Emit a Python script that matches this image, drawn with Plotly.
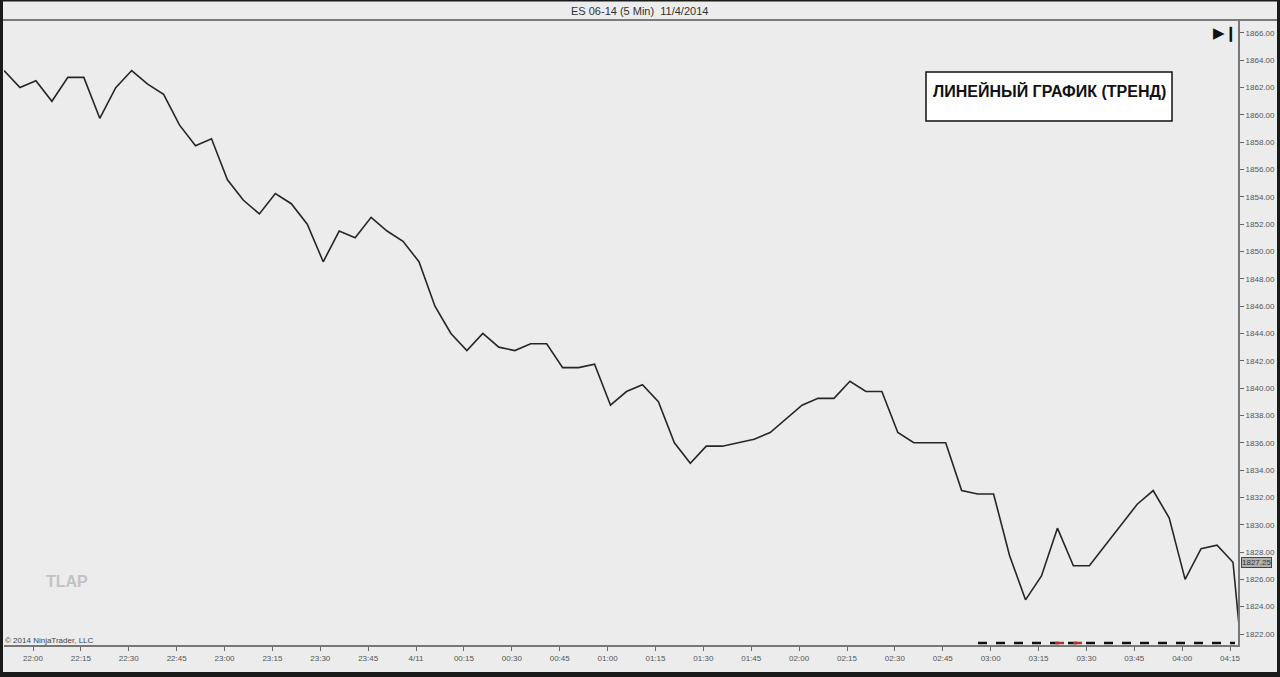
import pandas as pd
import plotly.graph_objects as go

# ---------------- data ----------------
start_time = "2014-11-03 21:50"
prices = [
    1863.25, 1862.0, 1862.5, 1861.0, 1862.75, 1862.75, 1859.75, 1862.0, 1863.25, 1862.25,
    1861.5, 1859.25, 1857.75, 1858.25, 1855.25, 1853.75, 1852.75, 1854.25, 1853.5, 1852.0,
    1849.25, 1851.5, 1851.0, 1852.5, 1851.5, 1850.75, 1849.25, 1846.0, 1844.0, 1842.75,
    1844.0, 1843.0, 1842.75, 1843.25, 1843.25, 1841.5, 1841.5, 1841.75, 1838.75, 1839.75,
    1840.25, 1839.0, 1836.0, 1834.5, 1835.75, 1835.75, 1836.0, 1836.25, 1836.75, 1837.75,
    1838.75, 1839.25, 1839.25, 1840.5, 1839.75, 1839.75, 1836.75, 1836.0, 1836.0, 1836.0,
    1832.5, 1832.25, 1832.25, 1827.75, 1824.5, 1826.25, 1829.75, 1827.0, 1827.0, 1828.5,
    1830.0, 1831.5, 1832.5, 1830.5, 1826.0, 1828.25, 1828.5, 1827.25, 1815.0,
]
times = pd.date_range(start_time, periods=len(prices), freq="5min")

x_tick_times = pd.date_range("2014-11-03 22:00", "2014-11-04 04:15", freq="15min")
x_tick_labels = [
    "22:00", "22:15", "22:30", "22:45", "23:00", "23:15", "23:30", "23:45",
    "4/11", "00:15", "00:30", "00:45", "01:00", "01:15", "01:30", "01:45",
    "02:00", "02:15", "02:30", "02:45", "03:00", "03:15", "03:30", "03:45",
    "04:00", "04:15",
]
y_tick_values = list(range(1822, 1867, 2))
y_tick_labels = [f"{v:.2f}" for v in y_tick_values]
last_price = 1827.25

title_text = "ES 06-14 (5 Min)  11/4/2014"
box_text = "ЛИНЕЙНЫЙ ГРАФИК (ТРЕНД)"

# ---------------- layout helpers ----------------
W, H = 1280, 677
PL, PR, PT, PB = 4, 1238, 21, 645  # plot area in pixels


def xp(px):
    return (px - PL) / (PR - PL)


def yp(py):
    return (PB - py) / (PB - PT)


BG = "#ececec"
FONT = "Liberation Sans, Arial, sans-serif"

fig = go.Figure()
fig.add_trace(go.Scatter(
    x=times, y=prices, mode="lines",
    line=dict(color="#262626", width=1.6),
    hoverinfo="skip", showlegend=False,
))

x_start = pd.Timestamp("2014-11-03 21:50")
x_end = pd.Timestamp("2014-11-04 04:16:34")
y_lo = 1822 - (PB - 634) / 13.66
y_hi = 1822 + (634 - PT) / 13.66

# NinjaTrader draws its time ticks a few pixels left of the bar centres
tick_positions = x_tick_times - pd.Timedelta(seconds=55)

fig.update_layout(
    width=W, height=H,
    margin=dict(l=PL, r=W - PR, t=PT, b=H - PB, pad=0),
    paper_bgcolor=BG, plot_bgcolor=BG,
    font=dict(family=FONT, size=8, color="#555555"),
    xaxis=dict(
        range=[x_start, x_end], tickmode="array",
        tickvals=tick_positions, ticktext=x_tick_labels,
        showgrid=False, zeroline=False,
        showline=True, linecolor="#777777", linewidth=2,
        ticks="outside", ticklen=4, tickcolor="#666666", tickwidth=1,
        tickfont=dict(size=8, color="#555555", family=FONT),
        fixedrange=True,
    ),
    yaxis=dict(
        range=[y_lo, y_hi], side="right", tickmode="array",
        tickvals=y_tick_values, ticktext=y_tick_labels,
        showgrid=False, zeroline=False,
        showline=True, linecolor="#777777", linewidth=2,
        ticks="outside", ticklen=4, tickcolor="#666666", tickwidth=1,
        tickfont=dict(size=8, color="#555555", family=FONT),
        fixedrange=True,
    ),
)

shapes = []
# outer dark frame
for x0, y0, x1, y1 in [(0, 0, 3, H), (1277, 0, W, H), (0, 672, W, H), (0, 0, W, 1.5)]:
    shapes.append(dict(type="rect", xref="paper", yref="paper",
                       x0=xp(x0), x1=xp(x1), y0=yp(y1), y1=yp(y0),
                       fillcolor="#1a1a1a", line=dict(width=0), layer="above"))
# title bar separator
shapes.append(dict(type="line", xref="paper", yref="paper",
                   x0=xp(3), x1=xp(1277), y0=yp(20), y1=yp(20),
                   line=dict(color="#555555", width=1.5)))
# white text box
shapes.append(dict(type="rect", xref="paper", yref="paper",
                   x0=xp(926), x1=xp(1172), y0=yp(121), y1=yp(72),
                   fillcolor="white", line=dict(color="#111111", width=1.5),
                   layer="above"))
# dashed artifact along the axis (bottom right)
shapes.append(dict(type="line", xref="paper", yref="paper",
                   x0=xp(978), x1=xp(1235), y0=yp(643), y1=yp(643),
                   line=dict(color="#111111", width=2.5, dash="dash"), layer="above"))
shapes.append(dict(type="line", xref="paper", yref="paper",
                   x0=xp(1055), x1=xp(1090), y0=yp(643), y1=yp(643),
                   line=dict(color="#b03030", width=2.5, dash="dash"), layer="above"))
fig.update_layout(shapes=shapes)


def ann(text, px, py, size, color, family=FONT, xanchor="center", **kw):
    return dict(text=text, xref="paper", yref="paper", x=xp(px), y=yp(py),
                xanchor=xanchor, yanchor="middle", showarrow=False,
                font=dict(size=size, color=color, family=family), **kw)


annotations = [
    ann(title_text, 640, 11, 11, "#333333"),
    ann("<b>" + box_text + "</b>", 1049, 91, 16, "#111111"),
    ann("<b>TLAP</b>", 67, 581, 16, "#c2c2c2"),
    ann("© 2014 NinjaTrader, LLC", 3, 640, 8, "#444444", xanchor="left"),
    ann("▶❙", 1225, 33, 15, "#111111", family="DejaVu Sans"),
    dict(text=f"{last_price:.2f}", xref="paper", yref="y", x=1.0, y=last_price,
         xanchor="left", yanchor="middle", xshift=3, showarrow=False,
         bgcolor="#b0b0b0", bordercolor="#444444", borderwidth=1, borderpad=0,
         font=dict(size=8, color="#333333", family=FONT)),
]
fig.update_layout(annotations=annotations)

fig.write_html("out.html")
